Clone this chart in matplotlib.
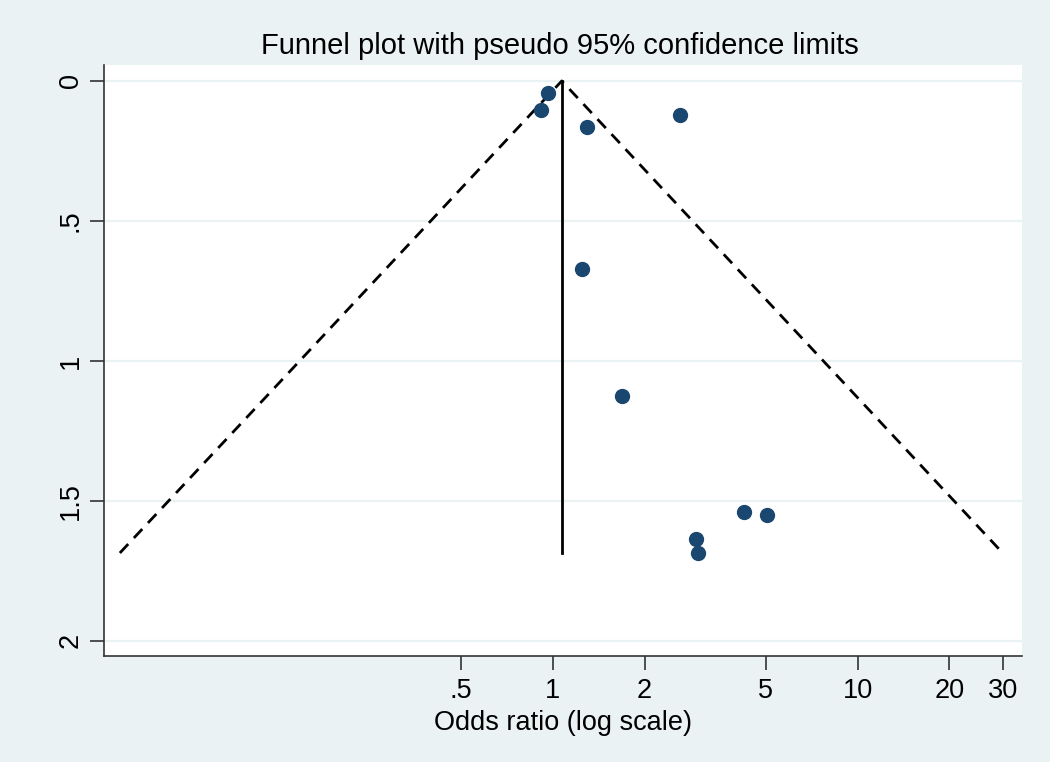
import matplotlib
matplotlib.use("Agg")
import matplotlib.pyplot as plt

plt.rcParams['font.family'] = ['Liberation Sans', 'DejaVu Sans']

# study estimates
odds_ratio = [0.963, 0.913, 1.29, 2.61, 1.245, 1.68, 4.23, 5.04, 2.94, 2.99]
se_logor = [0.043, 0.104, 0.164, 0.121, 0.671, 1.125, 1.539, 1.55, 1.636, 1.686]

# pooled estimate and pseudo 95% limits
pooled_or = 1.07
funnel_x = [0.038, 1.07, 29.9]
funnel_y = [1.686, 0.0, 1.686]

xticks = [0.5, 1, 2, 5, 10, 20, 30]
xtick_labels = ['.5', '1', '2', '5', '10', '20', '30']
yticks = [0, 0.5, 1, 1.5, 2]
ytick_labels = ['0', '.5', '1', '1.5', '2']

bg = '#EAF2F3'
navy = '#1A476F'

fig = plt.figure(figsize=(10.5, 7.62), dpi=100, facecolor=bg)
ax = fig.add_axes([0.099, 0.1391, 0.874, 0.7756])
ax.set_facecolor('white')

for yv in yticks:
    ax.axhline(yv, color=bg, lw=1.6, zorder=0)

ax.plot(funnel_x, funnel_y, color='black', lw=2.0, ls=(0, (4.4, 3.0)), zorder=2)
ax.plot([pooled_or, pooled_or], [0, max(funnel_y)], color='black', lw=2.0, zorder=2)
ax.plot(odds_ratio, se_logor, 'o', color=navy, ms=10, mec=navy, zorder=3)

ax.set_xscale('log')
ax.set_xlim(0.0337, 34.5)
ax.set_ylim(2.054, -0.057)

ax.set_xticks(xticks)
ax.set_xticklabels(xtick_labels)
ax.minorticks_off()
ax.set_yticks(yticks)
ax.set_yticklabels(ytick_labels, rotation=90, va='center')

ax.tick_params(axis='both', labelsize=19.5, length=10, width=1.2, color='#333333')
ax.tick_params(axis='y', pad=4.5)
ax.tick_params(axis='x', pad=6)

for side in ['top', 'right']:
    ax.spines[side].set_visible(False)
for side in ['left', 'bottom']:
    ax.spines[side].set_color('#333333')
    ax.spines[side].set_linewidth(1.2)

ax.set_xlabel('Odds ratio (log scale)', fontsize=19.5, labelpad=4)
fig.text(0.533, 0.939, 'Funnel plot with pseudo 95% confidence limits',
         fontsize=21, ha='center', va='center')

fig.savefig('out.png', dpi=100, facecolor=bg)
